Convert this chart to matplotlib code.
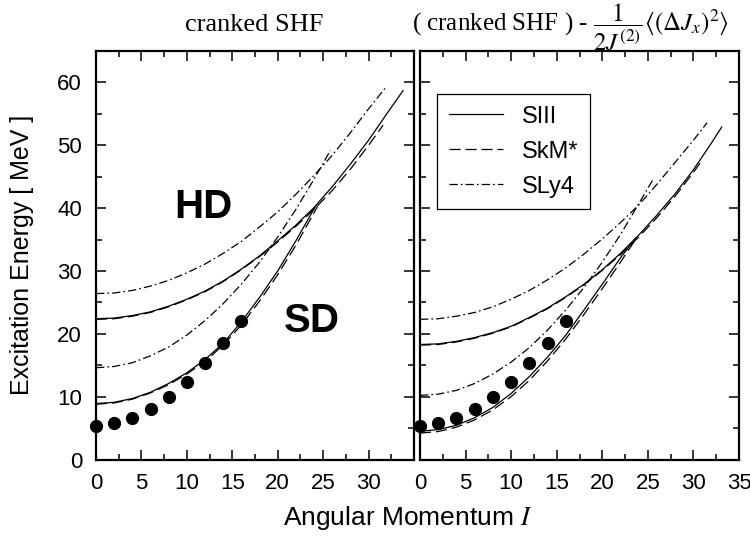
import matplotlib
matplotlib.use("Agg")
import matplotlib.pyplot as plt
from matplotlib.ticker import MultipleLocator

plt.rcParams['font.family'] = ['Liberation Sans', 'DejaVu Sans']
plt.rcParams['mathtext.fontset'] = 'stix'
plt.rcParams['lines.scale_dashes'] = False

# experimental SD band (dots), same in both panels
I_exp = [0, 2, 4, 6, 8, 10, 12, 14, 16]
E_exp = [5.3, 5.75, 6.65, 8.0, 9.9, 12.4, 15.3, 18.6, 22.1]

# ---- left panel: cranked SHF ----
L_siii_hd_I = [0, 2, 4, 6, 8, 10, 12, 14, 16, 18, 20, 22, 24, 26, 28, 30, 32, 33.8]
L_siii_hd_E = [22.4, 22.5, 22.9, 23.5, 24.4, 25.5, 26.8, 28.4, 30.3, 32.4, 34.8, 37.3, 40.1, 43.4, 47.0, 50.8, 55.0, 58.7]
L_skm_hd_I = [0, 2, 4, 6, 8, 10, 12, 14, 16, 18, 20, 22, 24, 26, 28, 30, 31.6]
L_skm_hd_E = [22.3, 22.4, 22.8, 23.4, 24.3, 25.4, 26.7, 28.3, 30.2, 32.3, 34.6, 37.1, 39.8, 42.8, 46.2, 50.0, 53.2]
L_sly4_hd_I = [0, 2, 4, 6, 8, 10, 12, 14, 16, 18, 20, 22, 24, 26, 28, 30, 32]
L_sly4_hd_E = [26.4, 26.5, 26.9, 27.6, 28.5, 29.7, 31.1, 32.8, 34.7, 37.0, 39.4, 42.2, 45.2, 48.4, 52.0, 55.8, 59.4]
L_siii_sd_I = [0, 2, 4, 6, 8, 10, 12, 14, 16, 18, 20, 22, 24.2]
L_siii_sd_E = [8.9, 9.1, 9.7, 10.7, 12.1, 13.8, 15.9, 18.5, 21.9, 25.8, 30.0, 34.8, 40.4]
L_skm_sd_I = [0, 2, 4, 6, 8, 10, 12, 14, 16, 18, 20, 22, 24.4]
L_skm_sd_E = [8.8, 9.0, 9.6, 10.6, 11.9, 13.6, 15.6, 18.2, 21.4, 25.2, 29.4, 34.1, 40.3]
L_sly4_sd_I = [0, 2, 4, 6, 8, 10, 12, 14, 16, 18, 20, 22, 24, 25.8]
L_sly4_sd_E = [14.6, 14.8, 15.4, 16.5, 17.9, 19.8, 22.1, 24.8, 27.9, 31.4, 35.4, 39.8, 44.6, 49.2]

# ---- right panel: cranked SHF - <dJx^2>/2J2 ----
R_siii_hd_I = [0, 2, 4, 6, 8, 10, 12, 14, 16, 18, 20, 22, 24, 26, 28, 30, 32, 33.1]
R_siii_hd_E = [18.3, 18.4, 18.8, 19.4, 20.2, 21.2, 22.6, 24.1, 25.9, 27.9, 30.2, 32.8, 35.7, 38.9, 42.3, 46.1, 50.4, 52.9]
R_skm_hd_I = [0, 2, 4, 6, 8, 10, 12, 14, 16, 18, 20, 22, 24, 26, 28, 30, 31.0]
R_skm_hd_E = [18.2, 18.3, 18.7, 19.3, 20.1, 21.1, 22.5, 24.0, 25.8, 27.8, 30.1, 32.6, 35.4, 38.5, 41.9, 45.7, 47.7]
R_sly4_hd_I = [0, 2, 4, 6, 8, 10, 12, 14, 16, 18, 20, 22, 24, 26, 28, 30, 31.5]
R_sly4_hd_E = [22.3, 22.4, 22.8, 23.4, 24.3, 25.5, 26.9, 28.6, 30.5, 32.7, 35.1, 37.7, 40.5, 43.8, 47.3, 50.8, 53.6]
R_siii_sd_I = [0, 2, 4, 6, 8, 10, 12, 14, 16, 18, 20, 22, 23.7]
R_siii_sd_E = [4.5, 4.75, 5.45, 6.65, 8.3, 10.5, 13.2, 16.3, 19.8, 23.8, 27.9, 32.1, 35.3]
R_skm_sd_I = [0, 2, 4, 6, 8, 10, 12, 14, 16, 18, 20, 22, 23.6]
R_skm_sd_E = [4.2, 4.45, 5.15, 6.3, 7.9, 10.0, 12.6, 15.7, 19.2, 23.1, 27.2, 31.4, 34.9]
R_sly4_sd_I = [0, 2, 4, 6, 8, 10, 12, 14, 16, 18, 20, 22, 24, 25.5]
R_sly4_sd_E = [10.2, 10.4, 11.0, 12.1, 13.6, 15.5, 17.8, 20.6, 23.8, 27.4, 31.4, 35.8, 40.7, 44.4]

styles = {
    'SIII': dict(linestyle='-'),
    'SkM*': dict(linestyle=(0, (8, 3.5))),
    'SLy4': dict(linestyle=(0, (6, 2.2, 1.2, 2.2))),
}
lw = 0.9

fig = plt.figure(figsize=(7.5, 5.37), dpi=100)
ax1 = fig.add_axes([96/750, 1-459.5/537, 318/750, 408.5/537])
ax2 = fig.add_axes([420/750, 1-459.5/537, 319/750, 408.5/537])

def curve(ax, I, E, name, label=None):
    ax.plot(I, E, color='black', lw=lw, label=label, **styles[name])

curve(ax1, L_siii_hd_I, L_siii_hd_E, 'SIII')
curve(ax1, L_skm_hd_I, L_skm_hd_E, 'SkM*')
curve(ax1, L_sly4_hd_I, L_sly4_hd_E, 'SLy4')
curve(ax1, L_siii_sd_I, L_siii_sd_E, 'SIII')
curve(ax1, L_skm_sd_I, L_skm_sd_E, 'SkM*')
curve(ax1, L_sly4_sd_I, L_sly4_sd_E, 'SLy4')

curve(ax2, R_siii_hd_I, R_siii_hd_E, 'SIII', 'SIII')
curve(ax2, R_skm_hd_I, R_skm_hd_E, 'SkM*', 'SkM*')
curve(ax2, R_sly4_hd_I, R_sly4_hd_E, 'SLy4', 'SLy4')
curve(ax2, R_siii_sd_I, R_siii_sd_E, 'SIII')
curve(ax2, R_skm_sd_I, R_skm_sd_E, 'SkM*')
curve(ax2, R_sly4_sd_I, R_sly4_sd_E, 'SLy4')

for ax in (ax1, ax2):
    ax.plot(I_exp, E_exp, 'o', color='black', ms=8.5, clip_on=False, zorder=5)
    ax.set_xlim(0, 35)
    ax.set_ylim(0, 65)
    ax.xaxis.set_major_locator(MultipleLocator(5))
    ax.xaxis.set_minor_locator(MultipleLocator(2.5))
    ax.yaxis.set_major_locator(MultipleLocator(10))
    ax.yaxis.set_minor_locator(MultipleLocator(5))
    ax.tick_params(which='both', direction='in', top=True, right=True, width=1.1, labelsize=16)
    ax.tick_params(which='major', length=7, pad=10)
    ax.tick_params(which='minor', length=4)
    for s in ax.spines.values():
        s.set_linewidth(1.6)

ax1.set_xticks([0, 5, 10, 15, 20, 25, 30, 35])
ax1.set_xticklabels(['0', '5', '10', '15', '20', '25', '30', ''])
ax2.set_yticklabels([])

ax1.text(11.8, 40.2, 'HD', fontsize=29, fontweight='bold', ha='center', va='center')
ax1.text(23.8, 22.0, 'SD', fontsize=29, fontweight='bold', ha='center', va='center')

leg = ax2.legend(loc='upper left', bbox_to_anchor=(0.053, 0.895), borderaxespad=0,
                 fontsize=17, handlelength=2.3, handletextpad=0.8, labelspacing=0.55,
                 borderpad=0.5, fancybox=False, framealpha=1, edgecolor='black')
leg.get_frame().set_linewidth(0.9)

fig.text(254/750, 1-25/537, 'cranked SHF', family='Liberation Serif', fontsize=19,
         ha='center', va='center')
fig.text(571/750, 1-27/537,
         r'( cranked SHF ) - $\dfrac{1}{2J^{(2)}}\langle(\Delta J_x)^2\rangle$',
         family='Liberation Serif', fontsize=18, ha='center', va='center')
fig.text(22/750, 1-255/537, 'Excitation Energy [ MeV ]', fontsize=18,
         rotation=90, ha='center', va='center')
fig.text(408/750, 1-518/537, 'Angular Momentum $I$', fontsize=19,
         ha='center', va='center')

fig.savefig('out.png', dpi=100)
